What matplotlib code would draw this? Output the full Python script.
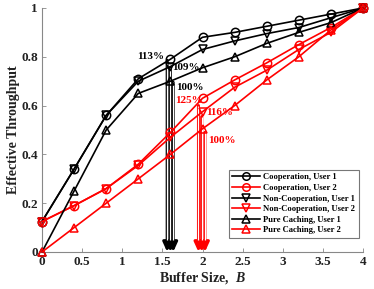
import matplotlib
matplotlib.use("Agg")
import matplotlib.pyplot as plt

B = [0, 0.4, 0.8, 1.2, 1.6, 2.0, 2.4, 2.8, 3.2, 3.6, 4.0]
coop_u1 = [0.125, 0.34, 0.56, 0.71, 0.79, 0.88, 0.90, 0.925, 0.95, 0.975, 1.0]
coop_u2 = [0.125, 0.19, 0.26, 0.36, 0.49, 0.63, 0.705, 0.775, 0.85, 0.92, 1.0]
noncoop_u1 = [0.125, 0.34, 0.56, 0.70, 0.76, 0.83, 0.865, 0.895, 0.92, 0.96, 1.0]
noncoop_u2 = [0.125, 0.19, 0.26, 0.355, 0.47, 0.575, 0.675, 0.745, 0.83, 0.90, 1.0]
pure_u1 = [0.0, 0.25, 0.50, 0.65, 0.70, 0.755, 0.80, 0.855, 0.90, 0.94, 1.0]
pure_u2 = [0.0, 0.10, 0.20, 0.30, 0.40, 0.505, 0.60, 0.705, 0.80, 0.91, 1.0]

labels = ["Cooperation, User 1", "Cooperation, User 2",
          "Non-Cooperation, User 1", "Non-Cooperation, User 2",
          "Pure Caching, User 1", "Pure Caching, User 2"]

arrow_x_black = [1.56, 1.60, 1.635]
arrow_y_black = [0.785, 0.755, 0.695]
pct_black = ["113%", "109%", "100%"]
arrow_x_red = [1.95, 1.99, 2.03]
arrow_y_red = [0.60, 0.555, 0.49]
pct_red = ["125%", "116%", "100%"]

plt.rcParams['font.family'] = ['Liberation Serif', 'DejaVu Serif']
plt.rcParams['font.weight'] = 'bold'
plt.rcParams['mathtext.fontset'] = 'custom'
plt.rcParams['mathtext.it'] = 'Liberation Serif:italic:bold'

fig = plt.figure(figsize=(3.74, 2.89), dpi=100)
ax = fig.add_axes([42/374, 1 - 252/289, (363-42)/374, (252-8)/289])

series = [(coop_u1, 'k', 'o'), (coop_u2, 'r', 'o'),
          (noncoop_u1, 'k', 'v'), (noncoop_u2, 'r', 'v'),
          (pure_u1, 'k', '^'), (pure_u2, 'r', '^')]
for (vals, c, m), lab in zip(series, labels):
    ax.plot(B, vals, color=c, marker=m, markersize=6, markerfacecolor='none',
            markeredgewidth=1.1, linewidth=1.2, label=lab, clip_on=False, zorder=3)

def draw_arrow(x, y0, c):
    ax.annotate('', xy=(x, 0.0), xytext=(x, y0),
                arrowprops=dict(arrowstyle='-|>,head_width=0.25,head_length=0.55',
                                color=c, lw=2.2, shrinkA=0, shrinkB=0), zorder=2)
    ax.plot([x, x], [0.05, y0], color='white', lw=0.9, zorder=2.1,
            solid_capstyle='butt')

for x, y in zip(arrow_x_black, arrow_y_black):
    draw_arrow(x, y, 'k')
for x, y in zip(arrow_x_red, arrow_y_red):
    draw_arrow(x, y, 'r')

fs = 8
ax.text(1.52, 0.80, pct_black[0], ha='right', va='center', fontsize=fs, color='k', fontweight='bold')
ax.text(1.62, 0.755, pct_black[1], ha='left', va='center', fontsize=fs, color='k', fontweight='bold')
ax.text(1.67, 0.675, pct_black[2], ha='left', va='center', fontsize=fs, color='k', fontweight='bold')
ax.text(1.66, 0.62, pct_red[0], ha='left', va='center', fontsize=fs, color='r', fontweight='bold')
ax.text(2.05, 0.57, pct_red[1], ha='left', va='center', fontsize=fs, color='r', fontweight='bold')
ax.text(2.07, 0.455, pct_red[2], ha='left', va='center', fontsize=fs, color='r', fontweight='bold')

ax.set_xlim(0, 4)
ax.set_ylim(0, 1)
ax.set_xticks([0, 0.5, 1, 1.5, 2, 2.5, 3, 3.5, 4])
ax.set_xticklabels(['0', '0.5', '1', '1.5', '2', '2.5', '3', '3.5', '4'])
ax.set_yticks([0, 0.2, 0.4, 0.6, 0.8, 1])
ax.set_yticklabels(['0', '0.2', '0.4', '0.6', '0.8', '1'])
for s in ['top', 'right']:
    ax.spines[s].set_visible(False)
for s in ['left', 'bottom']:
    ax.spines[s].set_color('#888888')
    ax.spines[s].set_linewidth(0.8)
ax.tick_params(direction='in', length=3, width=0.6, color='#888888', labelsize=9.5, pad=3)
for lab in ax.get_xticklabels() + ax.get_yticklabels():
    lab.set_fontweight('bold')
    lab.set_color('#222222')

ax.set_xlabel('Buffer Size,  $B$', fontsize=10, fontweight='bold', labelpad=1, color='#222222')
ax.set_ylabel('Effective Throughput', fontsize=10, fontweight='bold', labelpad=1, color='#222222')

leg = ax.legend(loc='lower right', bbox_to_anchor=(1.0, 0.04),
                prop={'weight': 'bold', 'size': 6.2}, handlelength=3.2, frameon=True,
                fancybox=False, edgecolor='#555555', borderpad=0.4, labelspacing=0.3,
                handletextpad=0.4, markerscale=0.9)
leg.get_frame().set_linewidth(0.8)

fig.savefig('out.png', dpi=100)
